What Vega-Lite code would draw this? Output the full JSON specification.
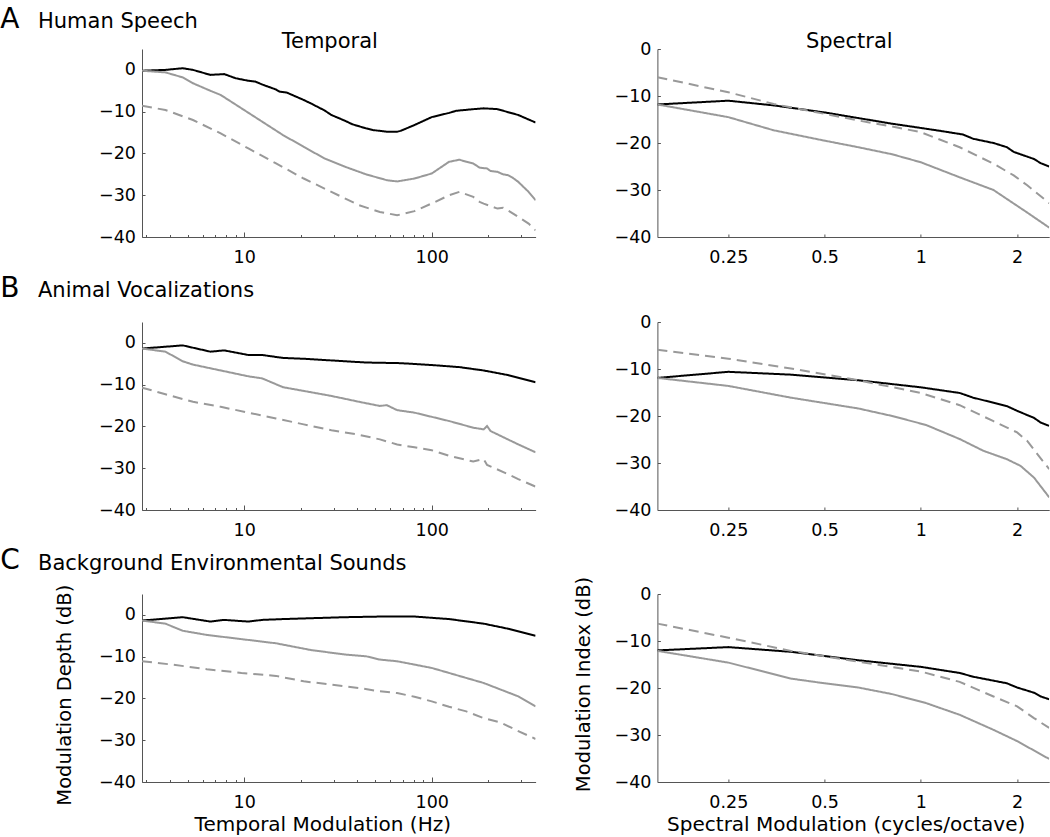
{
  "$schema": "https://vega.github.io/schema/vega-lite/v6.json",
  "background": "white",
  "padding": {"left": 0, "top": 5, "right": 0, "bottom": 0},
  "spacing": 5,
  "datasets": {
    "temporal": [
      {"panel":"A","series":"black","f":2.85,"db":-0.2},{"panel":"A","series":"black","f":3.8,"db":0},{"panel":"A","series":"black","f":4.7,"db":0.4},{"panel":"A","series":"black","f":5.33,"db":0},{"panel":"A","series":"black","f":6.6,"db":-1.2},{"panel":"A","series":"black","f":7.82,"db":-1.0},{"panel":"A","series":"black","f":9.0,"db":-2.0},{"panel":"A","series":"black","f":10.52,"db":-2.6},{"panel":"A","series":"black","f":11.46,"db":-2.8},{"panel":"A","series":"black","f":12.47,"db":-3.5},{"panel":"A","series":"black","f":14.78,"db":-4.7},{"panel":"A","series":"black","f":15.43,"db":-5.2},{"panel":"A","series":"black","f":16.79,"db":-5.4},{"panel":"A","series":"black","f":20.76,"db":-7.2},{"panel":"A","series":"black","f":22.61,"db":-8.0},{"panel":"A","series":"black","f":26.79,"db":-9.7},{"panel":"A","series":"black","f":29.17,"db":-10.8},{"panel":"A","series":"black","f":34.57,"db":-12.2},{"panel":"A","series":"black","f":37.64,"db":-13.0},{"panel":"A","series":"black","f":44.62,"db":-14.0},{"panel":"A","series":"black","f":48.58,"db":-14.4},{"panel":"A","series":"black","f":57.57,"db":-14.8},{"panel":"A","series":"black","f":65.4,"db":-14.8},{"panel":"A","series":"black","f":68.2,"db":-14.6},{"panel":"A","series":"black","f":80.9,"db":-13.2},{"panel":"A","series":"black","f":100,"db":-11.3},{"panel":"A","series":"black","f":123.7,"db":-10.3},{"panel":"A","series":"black","f":134.7,"db":-9.8},{"panel":"A","series":"black","f":166.5,"db":-9.4},{"panel":"A","series":"black","f":189.2,"db":-9.2},{"panel":"A","series":"black","f":224.2,"db":-9.4},{"panel":"A","series":"black","f":289.3,"db":-10.8},{"panel":"A","series":"black","f":358,"db":-12.6},
      {"panel":"A","series":"gray","f":2.85,"db":-0.2},{"panel":"A","series":"gray","f":3.8,"db":-0.6},{"panel":"A","series":"gray","f":4.7,"db":-1.8},{"panel":"A","series":"gray","f":5.33,"db":-3.2},{"panel":"A","series":"gray","f":6.6,"db":-5.0},{"panel":"A","series":"gray","f":7.49,"db":-6.0},{"panel":"A","series":"gray","f":9.67,"db":-9.2},{"panel":"A","series":"gray","f":12.47,"db":-12.4},{"panel":"A","series":"gray","f":16.09,"db":-15.6},{"panel":"A","series":"gray","f":20.76,"db":-18.4},{"panel":"A","series":"gray","f":26.79,"db":-21.2},{"panel":"A","series":"gray","f":34.57,"db":-23.2},{"panel":"A","series":"gray","f":44.62,"db":-25.0},{"panel":"A","series":"gray","f":57.57,"db":-26.4},{"panel":"A","series":"gray","f":65.4,"db":-26.7},{"panel":"A","series":"gray","f":80.9,"db":-26.0},{"panel":"A","series":"gray","f":100,"db":-24.8},{"panel":"A","series":"gray","f":123.7,"db":-22.0},{"panel":"A","series":"gray","f":140.5,"db":-21.5},{"panel":"A","series":"gray","f":152.9,"db":-22.0},{"panel":"A","series":"gray","f":166.5,"db":-22.4},{"panel":"A","series":"gray","f":180,"db":-23.4},{"panel":"A","series":"gray","f":197.3,"db":-23.6},{"panel":"A","series":"gray","f":205.9,"db":-24.2},{"panel":"A","series":"gray","f":224.2,"db":-24.4},{"panel":"A","series":"gray","f":240,"db":-25.0},{"panel":"A","series":"gray","f":254.7,"db":-25.2},{"panel":"A","series":"gray","f":270,"db":-25.8},{"panel":"A","series":"gray","f":289.3,"db":-26.8},{"panel":"A","series":"gray","f":328.6,"db":-29.2},{"panel":"A","series":"gray","f":358,"db":-31.2},
      {"panel":"A","series":"gray dashed","f":2.85,"db":-8.6},{"panel":"A","series":"gray dashed","f":3.8,"db":-9.6},{"panel":"A","series":"gray dashed","f":5.33,"db":-12.0},{"panel":"A","series":"gray dashed","f":7.49,"db":-15.2},{"panel":"A","series":"gray dashed","f":10.52,"db":-18.8},{"panel":"A","series":"gray dashed","f":14.78,"db":-22.4},{"panel":"A","series":"gray dashed","f":20.76,"db":-26.0},{"panel":"A","series":"gray dashed","f":29.17,"db":-29.2},{"panel":"A","series":"gray dashed","f":40.98,"db":-32.4},{"panel":"A","series":"gray dashed","f":52.89,"db":-34.0},{"panel":"A","series":"gray dashed","f":65.4,"db":-34.8},{"panel":"A","series":"gray dashed","f":80.9,"db":-33.8},{"panel":"A","series":"gray dashed","f":104.4,"db":-31.6},{"panel":"A","series":"gray dashed","f":123.7,"db":-30.0},{"panel":"A","series":"gray dashed","f":140.5,"db":-29.2},{"panel":"A","series":"gray dashed","f":152.9,"db":-29.8},{"panel":"A","series":"gray dashed","f":166.5,"db":-30.4},{"panel":"A","series":"gray dashed","f":180,"db":-31.6},{"panel":"A","series":"gray dashed","f":189.2,"db":-32.0},{"panel":"A","series":"gray dashed","f":205.9,"db":-32.6},{"panel":"A","series":"gray dashed","f":224.2,"db":-33.2},{"panel":"A","series":"gray dashed","f":240,"db":-33.0},{"panel":"A","series":"gray dashed","f":254.7,"db":-33.6},{"panel":"A","series":"gray dashed","f":289.3,"db":-35.2},{"panel":"A","series":"gray dashed","f":328.6,"db":-36.8},{"panel":"A","series":"gray dashed","f":358,"db":-38.4},
      {"panel":"B","series":"black","f":2.85,"db":-1.35},{"panel":"B","series":"black","f":4.7,"db":-0.6},{"panel":"B","series":"black","f":6.6,"db":-2.1},{"panel":"B","series":"black","f":7.82,"db":-1.8},{"panel":"B","series":"black","f":10.52,"db":-2.9},{"panel":"B","series":"black","f":12.47,"db":-2.9},{"panel":"B","series":"black","f":16.09,"db":-3.6},{"panel":"B","series":"black","f":20.76,"db":-3.8},{"panel":"B","series":"black","f":29.17,"db":-4.2},{"panel":"B","series":"black","f":44.62,"db":-4.7},{"panel":"B","series":"black","f":68.2,"db":-4.85},{"panel":"B","series":"black","f":100,"db":-5.3},{"panel":"B","series":"black","f":140.5,"db":-5.8},{"panel":"B","series":"black","f":189.2,"db":-6.6},{"panel":"B","series":"black","f":254.7,"db":-7.7},{"panel":"B","series":"black","f":358,"db":-9.4},
      {"panel":"B","series":"gray","f":2.85,"db":-1.35},{"panel":"B","series":"gray","f":3.8,"db":-2.1},{"panel":"B","series":"gray","f":4.7,"db":-4.4},{"panel":"B","series":"gray","f":5.33,"db":-5.2},{"panel":"B","series":"gray","f":7.49,"db":-6.6},{"panel":"B","series":"gray","f":10.52,"db":-8.0},{"panel":"B","series":"gray","f":12.47,"db":-8.5},{"panel":"B","series":"gray","f":16.09,"db":-10.6},{"panel":"B","series":"gray","f":20.76,"db":-11.5},{"panel":"B","series":"gray","f":29.17,"db":-12.7},{"panel":"B","series":"gray","f":40.98,"db":-14.1},{"panel":"B","series":"gray","f":52.89,"db":-15.1},{"panel":"B","series":"gray","f":57.57,"db":-14.9},{"panel":"B","series":"gray","f":65.4,"db":-16.1},{"panel":"B","series":"gray","f":80.9,"db":-16.7},{"panel":"B","series":"gray","f":100,"db":-17.7},{"panel":"B","series":"gray","f":123.7,"db":-18.7},{"panel":"B","series":"gray","f":166.5,"db":-20.3},{"panel":"B","series":"gray","f":189.2,"db":-20.7},{"panel":"B","series":"gray","f":197.3,"db":-19.9},{"panel":"B","series":"gray","f":205.9,"db":-21.1},{"panel":"B","series":"gray","f":254.7,"db":-23.1},{"panel":"B","series":"gray","f":289.3,"db":-24.3},{"panel":"B","series":"gray","f":358,"db":-26.2},
      {"panel":"B","series":"gray dashed","f":2.85,"db":-10.7},{"panel":"B","series":"gray dashed","f":3.8,"db":-12.3},{"panel":"B","series":"gray dashed","f":5.33,"db":-14.1},{"panel":"B","series":"gray dashed","f":7.49,"db":-15.3},{"panel":"B","series":"gray dashed","f":10.52,"db":-16.7},{"panel":"B","series":"gray dashed","f":14.78,"db":-18.1},{"panel":"B","series":"gray dashed","f":20.76,"db":-19.5},{"panel":"B","series":"gray dashed","f":29.17,"db":-20.9},{"panel":"B","series":"gray dashed","f":40.98,"db":-22.0},{"panel":"B","series":"gray dashed","f":52.89,"db":-23.1},{"panel":"B","series":"gray dashed","f":65.4,"db":-24.3},{"panel":"B","series":"gray dashed","f":80.9,"db":-25.0},{"panel":"B","series":"gray dashed","f":100,"db":-25.7},{"panel":"B","series":"gray dashed","f":123.7,"db":-27.0},{"panel":"B","series":"gray dashed","f":166.5,"db":-28.4},{"panel":"B","series":"gray dashed","f":189.2,"db":-27.8},{"panel":"B","series":"gray dashed","f":197.3,"db":-29.2},{"panel":"B","series":"gray dashed","f":254.7,"db":-31.4},{"panel":"B","series":"gray dashed","f":289.3,"db":-32.6},{"panel":"B","series":"gray dashed","f":358,"db":-34.4},
      {"panel":"C","series":"black","f":2.85,"db":-1.35},{"panel":"C","series":"black","f":4.7,"db":-0.55},{"panel":"C","series":"black","f":6.6,"db":-1.6},{"panel":"C","series":"black","f":7.82,"db":-1.2},{"panel":"C","series":"black","f":10.52,"db":-1.6},{"panel":"C","series":"black","f":12.47,"db":-1.2},{"panel":"C","series":"black","f":16.09,"db":-1.0},{"panel":"C","series":"black","f":22.61,"db":-0.8},{"panel":"C","series":"black","f":34.57,"db":-0.55},{"panel":"C","series":"black","f":52.89,"db":-0.4},{"panel":"C","series":"black","f":80.9,"db":-0.4},{"panel":"C","series":"black","f":123.7,"db":-1.0},{"panel":"C","series":"black","f":189.2,"db":-2.1},{"panel":"C","series":"black","f":254.7,"db":-3.3},{"panel":"C","series":"black","f":358,"db":-5.0},
      {"panel":"C","series":"gray","f":2.85,"db":-1.35},{"panel":"C","series":"gray","f":3.8,"db":-2.1},{"panel":"C","series":"gray","f":4.7,"db":-3.8},{"panel":"C","series":"gray","f":6.32,"db":-4.8},{"panel":"C","series":"gray","f":9.67,"db":-5.8},{"panel":"C","series":"gray","f":14.78,"db":-6.8},{"panel":"C","series":"gray","f":22.61,"db":-8.4},{"panel":"C","series":"gray","f":34.57,"db":-9.5},{"panel":"C","series":"gray","f":44.62,"db":-9.9},{"panel":"C","series":"gray","f":52.89,"db":-10.7},{"panel":"C","series":"gray","f":65.4,"db":-11.1},{"panel":"C","series":"gray","f":80.9,"db":-11.9},{"panel":"C","series":"gray","f":100,"db":-12.7},{"panel":"C","series":"gray","f":123.7,"db":-13.9},{"panel":"C","series":"gray","f":152.9,"db":-15.1},{"panel":"C","series":"gray","f":189.2,"db":-16.3},{"panel":"C","series":"gray","f":233.9,"db":-17.9},{"panel":"C","series":"gray","f":289.3,"db":-19.5},{"panel":"C","series":"gray","f":358,"db":-21.9},
      {"panel":"C","series":"gray dashed","f":2.85,"db":-11.1},{"panel":"C","series":"gray dashed","f":4.13,"db":-11.9},{"panel":"C","series":"gray dashed","f":6.32,"db":-13.0},{"panel":"C","series":"gray dashed","f":9.67,"db":-13.9},{"panel":"C","series":"gray dashed","f":14.78,"db":-14.6},{"panel":"C","series":"gray dashed","f":20.76,"db":-15.9},{"panel":"C","series":"gray dashed","f":29.17,"db":-16.7},{"panel":"C","series":"gray dashed","f":40.98,"db":-17.5},{"panel":"C","series":"gray dashed","f":52.89,"db":-18.3},{"panel":"C","series":"gray dashed","f":65.4,"db":-18.7},{"panel":"C","series":"gray dashed","f":80.9,"db":-19.6},{"panel":"C","series":"gray dashed","f":100,"db":-20.7},{"panel":"C","series":"gray dashed","f":123.7,"db":-22.0},{"panel":"C","series":"gray dashed","f":152.9,"db":-23.1},{"panel":"C","series":"gray dashed","f":189.2,"db":-24.7},{"panel":"C","series":"gray dashed","f":233.9,"db":-25.8},{"panel":"C","series":"gray dashed","f":289.3,"db":-27.8},{"panel":"C","series":"gray dashed","f":358,"db":-29.7}
    ],
    "spectral": [
      {"panel":"A","series":"black","s":0.15,"db":-11.8},{"panel":"A","series":"black","s":0.25,"db":-11.0},{"panel":"A","series":"black","s":0.3467,"db":-12.0},{"panel":"A","series":"black","s":0.5,"db":-13.5},{"panel":"A","series":"black","s":0.6375,"db":-14.7},{"panel":"A","series":"black","s":0.8134,"db":-15.9},{"panel":"A","series":"black","s":1.0,"db":-16.8},{"panel":"A","series":"black","s":1.1713,"db":-17.5},{"panel":"A","series":"black","s":1.3552,"db":-18.2},{"panel":"A","series":"black","s":1.4578,"db":-19.1},{"panel":"A","series":"black","s":1.687,"db":-20.0},{"panel":"A","series":"black","s":1.8594,"db":-20.9},{"panel":"A","series":"black","s":1.9519,"db":-21.9},{"panel":"A","series":"black","s":2.2584,"db":-23.4},{"panel":"A","series":"black","s":2.3709,"db":-24.3},{"panel":"A","series":"black","s":2.52,"db":-25.0},
      {"panel":"A","series":"gray","s":0.15,"db":-11.8},{"panel":"A","series":"gray","s":0.25,"db":-14.5},{"panel":"A","series":"gray","s":0.3467,"db":-17.3},{"panel":"A","series":"gray","s":0.5,"db":-19.5},{"panel":"A","series":"gray","s":0.6375,"db":-20.9},{"panel":"A","series":"gray","s":0.8134,"db":-22.4},{"panel":"A","series":"gray","s":1.0,"db":-24.1},{"panel":"A","series":"gray","s":1.3226,"db":-27.3},{"panel":"A","series":"gray","s":1.687,"db":-30.0},{"panel":"A","series":"gray","s":1.905,"db":-32.4},{"panel":"A","series":"gray","s":2.1513,"db":-34.8},{"panel":"A","series":"gray","s":2.52,"db":-38.0},
      {"panel":"A","series":"gray dashed","s":0.15,"db":-6.0},{"panel":"A","series":"gray dashed","s":0.25,"db":-9.2},{"panel":"A","series":"gray dashed","s":0.3467,"db":-11.7},{"panel":"A","series":"gray dashed","s":0.5,"db":-13.8},{"panel":"A","series":"gray dashed","s":0.6375,"db":-15.2},{"panel":"A","series":"gray dashed","s":0.8134,"db":-16.5},{"panel":"A","series":"gray dashed","s":1.0,"db":-17.7},{"panel":"A","series":"gray dashed","s":1.3226,"db":-20.9},{"panel":"A","series":"gray dashed","s":1.687,"db":-24.4},{"panel":"A","series":"gray dashed","s":1.9519,"db":-26.9},{"panel":"A","series":"gray dashed","s":2.1513,"db":-29.0},{"panel":"A","series":"gray dashed","s":2.52,"db":-32.8},
      {"panel":"B","series":"black","s":0.15,"db":-11.9},{"panel":"B","series":"black","s":0.25,"db":-10.6},{"panel":"B","series":"black","s":0.3923,"db":-11.2},{"panel":"B","series":"black","s":0.6375,"db":-12.4},{"panel":"B","series":"black","s":1.0,"db":-13.9},{"panel":"B","series":"black","s":1.3226,"db":-15.1},{"panel":"B","series":"black","s":1.4578,"db":-16.1},{"panel":"B","series":"black","s":1.8594,"db":-17.9},{"panel":"B","series":"black","s":2.0,"db":-18.9},{"panel":"B","series":"black","s":2.2584,"db":-20.4},{"panel":"B","series":"black","s":2.3709,"db":-21.4},{"panel":"B","series":"black","s":2.52,"db":-22.1},
      {"panel":"B","series":"gray","s":0.15,"db":-11.9},{"panel":"B","series":"gray","s":0.25,"db":-13.6},{"panel":"B","series":"gray","s":0.3923,"db":-16.1},{"panel":"B","series":"gray","s":0.6375,"db":-18.4},{"panel":"B","series":"gray","s":0.8134,"db":-20.0},{"panel":"B","series":"gray","s":1.0372,"db":-21.9},{"panel":"B","series":"gray","s":1.3226,"db":-24.9},{"panel":"B","series":"gray","s":1.5683,"db":-27.4},{"panel":"B","series":"gray","s":1.8594,"db":-29.2},{"panel":"B","series":"gray","s":2.0492,"db":-30.6},{"panel":"B","series":"gray","s":2.2584,"db":-33.1},{"panel":"B","series":"gray","s":2.52,"db":-37.3},
      {"panel":"B","series":"gray dashed","s":0.15,"db":-5.9},{"panel":"B","series":"gray dashed","s":0.25,"db":-7.8},{"panel":"B","series":"gray dashed","s":0.3923,"db":-9.9},{"panel":"B","series":"gray dashed","s":0.6375,"db":-12.4},{"panel":"B","series":"gray dashed","s":1.0,"db":-15.1},{"panel":"B","series":"gray dashed","s":1.3226,"db":-17.7},{"panel":"B","series":"gray dashed","s":1.687,"db":-21.1},{"panel":"B","series":"gray dashed","s":2.0,"db":-23.5},{"panel":"B","series":"gray dashed","s":2.1513,"db":-25.3},{"panel":"B","series":"gray dashed","s":2.314,"db":-28.1},{"panel":"B","series":"gray dashed","s":2.52,"db":-31.3},
      {"panel":"C","series":"black","s":0.15,"db":-12.0},{"panel":"C","series":"black","s":0.25,"db":-11.3},{"panel":"C","series":"black","s":0.3923,"db":-12.3},{"panel":"C","series":"black","s":0.6375,"db":-14.1},{"panel":"C","series":"black","s":1.0,"db":-15.5},{"panel":"C","series":"black","s":1.3226,"db":-16.8},{"panel":"C","series":"black","s":1.4578,"db":-17.6},{"panel":"C","series":"black","s":1.8594,"db":-19.0},{"panel":"C","series":"black","s":2.0,"db":-19.9},{"panel":"C","series":"black","s":2.2584,"db":-21.0},{"panel":"C","series":"black","s":2.3709,"db":-21.8},{"panel":"C","series":"black","s":2.52,"db":-22.4},
      {"panel":"C","series":"gray","s":0.15,"db":-12.1},{"panel":"C","series":"gray","s":0.25,"db":-14.6},{"panel":"C","series":"gray","s":0.3923,"db":-18.0},{"panel":"C","series":"gray","s":0.5,"db":-19.0},{"panel":"C","series":"gray","s":0.6375,"db":-19.9},{"panel":"C","series":"gray","s":0.8134,"db":-21.3},{"panel":"C","series":"gray","s":1.0372,"db":-23.2},{"panel":"C","series":"gray","s":1.3226,"db":-25.7},{"panel":"C","series":"gray","s":1.687,"db":-28.9},{"panel":"C","series":"gray","s":2.0,"db":-31.3},{"panel":"C","series":"gray","s":2.52,"db":-35.1},
      {"panel":"C","series":"gray dashed","s":0.15,"db":-6.3},{"panel":"C","series":"gray dashed","s":0.25,"db":-9.3},{"panel":"C","series":"gray dashed","s":0.3923,"db":-12.1},{"panel":"C","series":"gray dashed","s":0.6375,"db":-14.4},{"panel":"C","series":"gray dashed","s":1.0,"db":-16.5},{"panel":"C","series":"gray dashed","s":1.3226,"db":-18.7},{"panel":"C","series":"gray dashed","s":1.687,"db":-21.8},{"panel":"C","series":"gray dashed","s":2.0,"db":-23.9},{"panel":"C","series":"gray dashed","s":2.2584,"db":-26.4},{"panel":"C","series":"gray dashed","s":2.52,"db":-28.5}
    ]
  },
  "vconcat": [
    {
      "title": {"text": "A", "anchor": "start", "frame": "group", "dx": -141.7, "dy": 22.5, "offset": 0, "fontSize": 28},
      "vconcat": [
        {
          "title": {"text": "Human Speech", "anchor": "start", "frame": "group", "dx": -104, "offset": -1.6, "fontSize": 21},
          "bounds": "flush",
          "spacing": 121.4,
          "hconcat": [
            {
              "width": 393.6, "height": 188,
              "title": {"text": "Temporal", "anchor": "middle", "frame": "group", "dx": -9, "offset": -2.8, "fontSize": 21},
              "data": {"name": "temporal"},
              "transform": [{"filter": "datum.panel == 'A'"}],
              "mark": {"type": "line", "strokeWidth": 2, "clip": true},
              "encoding": {
                "x": {"field": "f", "type": "quantitative", "scale": {"type": "log", "domain": [2.85, 358], "nice": false},
                  "axis": {"title": null, "values": [3,4,5,6,7,8,9,10,20,30,40,50,60,70,80,90,100,200,300], "labelExpr": "datum.value == 10 ? '10' : datum.value == 100 ? '100' : ''", "tickSize": {"condition": {"test": "datum.value == 10 || datum.value == 100", "value": -5}, "value": -2.5}, "labelPadding": 16.5, "labelFlush": false, "labelOverlap": false}},
                "y": {"field": "db", "type": "quantitative", "scale": {"domain": [-40, 5], "nice": false, "zero": false},
                  "axis": {"title": null, "values": [-40,-30,-20,-10,0], "tickSize": -3, "labelPadding": 9.5}},
                "color": {"field": "series", "type": "nominal", "scale": {"domain": ["black","gray","gray dashed"], "range": ["#000000","#999999","#999999"]}, "legend": null},
                "strokeDash": {"field": "series", "type": "nominal", "scale": {"domain": ["black","gray","gray dashed"], "range": [[1,0],[1,0],[10,6]]}, "legend": null}
              }
            },
            {
              "width": 391.8, "height": 188,
              "title": {"text": "Spectral", "anchor": "middle", "frame": "group", "dx": -4, "offset": -11.55, "fontSize": 21},
              "data": {"name": "spectral"},
              "transform": [{"filter": "datum.panel == 'A'"}],
              "mark": {"type": "line", "strokeWidth": 2, "clip": true},
              "encoding": {
                "x": {"field": "s", "type": "quantitative", "scale": {"type": "log", "base": 2, "domain": [0.15, 2.52], "nice": false},
                  "axis": {"title": null, "values": [0.25,0.5,1,2], "format": "~g", "tickSize": -3, "labelPadding": 14.5, "labelFlush": false, "labelOverlap": false}},
                "y": {"field": "db", "type": "quantitative", "scale": {"domain": [-40, 0], "nice": false, "zero": false},
                  "axis": {"title": null, "values": [-40,-30,-20,-10,0], "tickSize": -3, "labelPadding": 9.5}},
                "color": {"field": "series", "type": "nominal", "scale": {"domain": ["black","gray","gray dashed"], "range": ["#000000","#999999","#999999"]}, "legend": null},
                "strokeDash": {"field": "series", "type": "nominal", "scale": {"domain": ["black","gray","gray dashed"], "range": [[1,0],[1,0],[10,6]]}, "legend": null}
              }
            }
          ]
        }
      ]
    },
    {
      "title": {"text": "B", "anchor": "start", "frame": "group", "dx": -141.7, "dy": 22.5, "offset": 0, "fontSize": 28},
      "vconcat": [
        {
          "title": {"text": "Animal Vocalizations", "anchor": "start", "frame": "group", "dx": -104, "offset": 11.85, "fontSize": 21},
          "bounds": "flush",
          "spacing": 121.4,
          "hconcat": [
            {
              "width": 393.6, "height": 188,
              "data": {"name": "temporal"},
              "transform": [{"filter": "datum.panel == 'B'"}],
              "mark": {"type": "line", "strokeWidth": 2, "clip": true},
              "encoding": {
                "x": {"field": "f", "type": "quantitative", "scale": {"type": "log", "domain": [2.85, 358], "nice": false},
                  "axis": {"title": null, "values": [3,4,5,6,7,8,9,10,20,30,40,50,60,70,80,90,100,200,300], "labelExpr": "datum.value == 10 ? '10' : datum.value == 100 ? '100' : ''", "tickSize": {"condition": {"test": "datum.value == 10 || datum.value == 100", "value": -5}, "value": -2.5}, "labelPadding": 16.5, "labelFlush": false, "labelOverlap": false}},
                "y": {"field": "db", "type": "quantitative", "scale": {"domain": [-40, 5], "nice": false, "zero": false},
                  "axis": {"title": null, "values": [-40,-30,-20,-10,0], "tickSize": -3, "labelPadding": 9.5}},
                "color": {"field": "series", "type": "nominal", "scale": {"domain": ["black","gray","gray dashed"], "range": ["#000000","#999999","#999999"]}, "legend": null},
                "strokeDash": {"field": "series", "type": "nominal", "scale": {"domain": ["black","gray","gray dashed"], "range": [[1,0],[1,0],[10,6]]}, "legend": null}
              }
            },
            {
              "width": 391.8, "height": 188,
              "data": {"name": "spectral"},
              "transform": [{"filter": "datum.panel == 'B'"}],
              "mark": {"type": "line", "strokeWidth": 2, "clip": true},
              "encoding": {
                "x": {"field": "s", "type": "quantitative", "scale": {"type": "log", "base": 2, "domain": [0.15, 2.52], "nice": false},
                  "axis": {"title": null, "values": [0.25,0.5,1,2], "format": "~g", "tickSize": -3, "labelPadding": 14.5, "labelFlush": false, "labelOverlap": false}},
                "y": {"field": "db", "type": "quantitative", "scale": {"domain": [-40, 0], "nice": false, "zero": false},
                  "axis": {"title": null, "values": [-40,-30,-20,-10,0], "tickSize": -3, "labelPadding": 9.5}},
                "color": {"field": "series", "type": "nominal", "scale": {"domain": ["black","gray","gray dashed"], "range": ["#000000","#999999","#999999"]}, "legend": null},
                "strokeDash": {"field": "series", "type": "nominal", "scale": {"domain": ["black","gray","gray dashed"], "range": [[1,0],[1,0],[10,6]]}, "legend": null}
              }
            }
          ]
        }
      ]
    },
    {
      "title": {"text": "C", "anchor": "start", "frame": "group", "dx": -141.7, "dy": 22.5, "offset": 0, "fontSize": 28},
      "vconcat": [
        {
          "title": {"text": "Background Environmental Sounds", "anchor": "start", "frame": "group", "dx": -104, "offset": 2.8, "fontSize": 21},
          "bounds": "flush",
          "spacing": 121.4,
          "hconcat": [
            {
              "width": 393.6, "height": 188,
              "data": {"name": "temporal"},
              "transform": [{"filter": "datum.panel == 'C'"}],
              "mark": {"type": "line", "strokeWidth": 2, "clip": true},
              "encoding": {
                "x": {"field": "f", "type": "quantitative", "scale": {"type": "log", "domain": [2.85, 358], "nice": false},
                  "axis": {"title": "Temporal Modulation (Hz)", "titleX": 180.3, "titlePadding": 1, "values": [3,4,5,6,7,8,9,10,20,30,40,50,60,70,80,90,100,200,300], "labelExpr": "datum.value == 10 ? '10' : datum.value == 100 ? '100' : ''", "tickSize": {"condition": {"test": "datum.value == 10 || datum.value == 100", "value": -5}, "value": -2.5}, "labelPadding": 16.5, "labelFlush": false, "labelOverlap": false}},
                "y": {"field": "db", "type": "quantitative", "scale": {"domain": [-40, 5], "nice": false, "zero": false},
                  "axis": {"title": "Modulation Depth (dB)", "titleFontSize": 19.5, "titlePadding": 24, "titleY": 100.7, "values": [-40,-30,-20,-10,0], "tickSize": -3, "labelPadding": 9.5}},
                "color": {"field": "series", "type": "nominal", "scale": {"domain": ["black","gray","gray dashed"], "range": ["#000000","#999999","#999999"]}, "legend": null},
                "strokeDash": {"field": "series", "type": "nominal", "scale": {"domain": ["black","gray","gray dashed"], "range": [[1,0],[1,0],[10,6]]}, "legend": null}
              }
            },
            {
              "width": 391.8, "height": 188,
              "data": {"name": "spectral"},
              "transform": [{"filter": "datum.panel == 'C'"}],
              "mark": {"type": "line", "strokeWidth": 2, "clip": true},
              "encoding": {
                "x": {"field": "s", "type": "quantitative", "scale": {"type": "log", "base": 2, "domain": [0.15, 2.52], "nice": false},
                  "axis": {"title": "Spectral Modulation (cycles/octave)", "titleX": 188.3, "titlePadding": 3, "values": [0.25,0.5,1,2], "format": "~g", "tickSize": -3, "labelPadding": 14.5, "labelFlush": false, "labelOverlap": false}},
                "y": {"field": "db", "type": "quantitative", "scale": {"domain": [-40, 0], "nice": false, "zero": false},
                  "axis": {"title": "Modulation Index (dB)", "titleFontSize": 19.5, "titlePadding": 20.5, "titleY": 90, "values": [-40,-30,-20,-10,0], "tickSize": -3, "labelPadding": 9.5}},
                "color": {"field": "series", "type": "nominal", "scale": {"domain": ["black","gray","gray dashed"], "range": ["#000000","#999999","#999999"]}, "legend": null},
                "strokeDash": {"field": "series", "type": "nominal", "scale": {"domain": ["black","gray","gray dashed"], "range": [[1,0],[1,0],[10,6]]}, "legend": null}
              }
            }
          ]
        }
      ]
    }
  ],
  "config": {
    "font": "DejaVu Sans",
    "view": {"stroke": null},
    "axis": {"grid": false, "domainColor": "#555555", "domainWidth": 1, "tickColor": "#555555", "tickWidth": 1, "labelFont": "DejaVu Sans", "labelFontSize": 17.5, "labelColor": "#000000", "titleFont": "DejaVu Sans", "titleFontSize": 20, "titleFontWeight": "normal", "titleColor": "#000000"},
    "title": {"font": "DejaVu Sans", "fontWeight": "normal", "color": "#000000"}
  }
}
